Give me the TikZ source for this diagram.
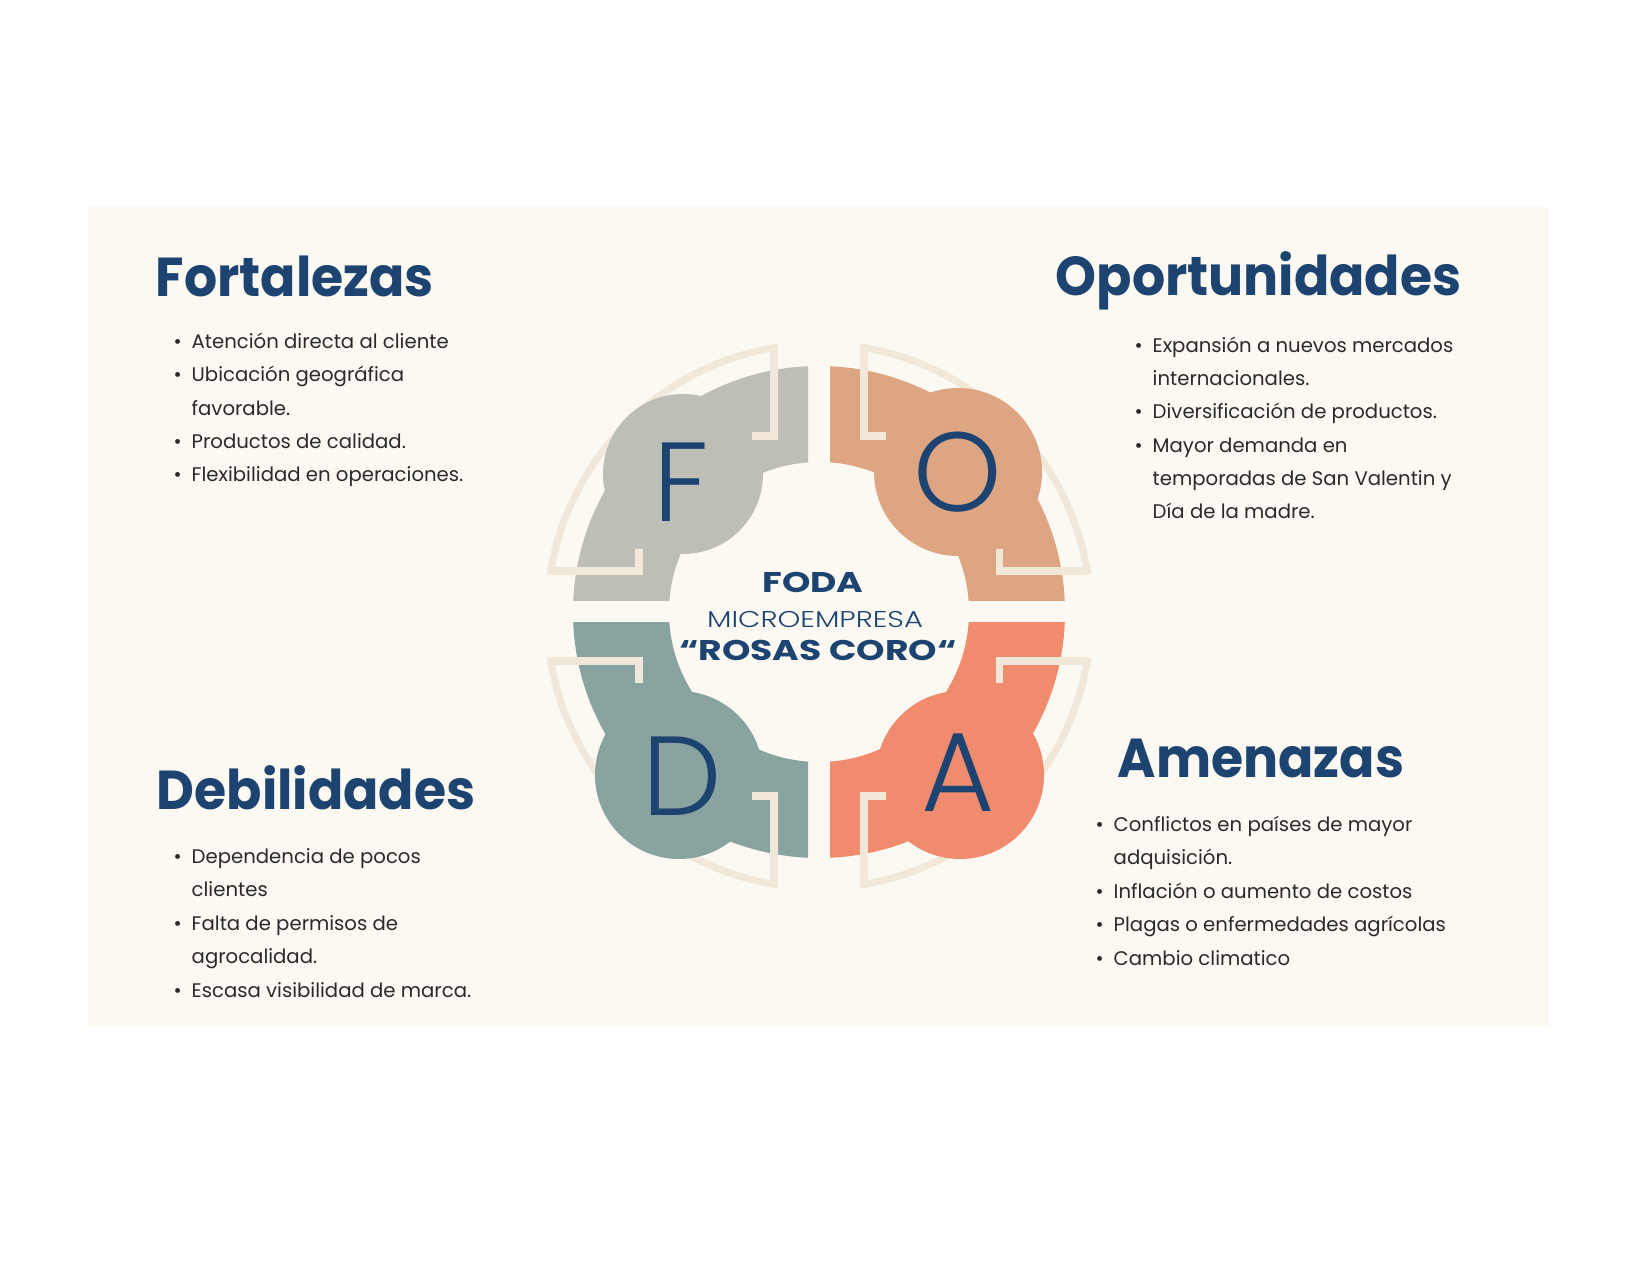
\documentclass[tikz,border=0pt]{standalone}
\usepackage{fontspec}
\setmainfont{Poppins}
\IfFontExistsTF{Poppins Light}{\newfontfamily\thinfont{Poppins Light}%
  \newfontfamily\widethin[FakeStretch=1.27]{Poppins Light}}%
  {\newfontfamily\thinfont{Poppins}\newfontfamily\widethin[FakeStretch=1.27]{Poppins}}
\newfontfamily\widefont[FakeStretch=1.27]{Poppins}
\newfontfamily\headfont[FakeStretch=0.95]{Poppins}
\usetikzlibrary{positioning}
\definecolor{paper}{HTML}{FCF9F2}
\definecolor{navy}{HTML}{1D4470}
\definecolor{ink}{HTML}{2A2A2A}
\definecolor{trimc}{HTML}{F1E8D9}
\definecolor{fgray}{HTML}{BDBEB6}
\definecolor{otan}{HTML}{DEA583}
\definecolor{dteal}{HTML}{88A3A0}
\definecolor{asalmon}{HTML}{F08B6E}
\tikzset{
  heading/.style={font=\headfont\bfseries\fontsize{15.6}{18}\selectfont,text=navy,anchor=base west,inner sep=0pt},
  items/.style={font=\fontsize{5.6}{9.5}\selectfont,text=ink,anchor=base west,align=left,inner sep=0pt},
  bigletter/.style={font=\thinfont\fontsize{32}{36}\selectfont,text=navy,inner sep=0pt},
  blob/.style={circle,minimum size=16.8mm,inner sep=0pt},
  centre/.style={text=navy,anchor=base,inner sep=0pt},
  trimline/.style={draw=trimc,line width=2pt},
}
\newcommand{\bul}{\makebox[1.8mm][l]{\textbullet}}
\newcommand{\ind}{\hspace*{1.8mm}}
% coloured quarter ring: colour, x sign, y sign
\newcommand{\petal}[3]{%
  \begin{scope}[shift={(819,612)},xscale=#2,yscale=#3]
    \clip (-11,-11) rectangle (-260,-260);
    \fill[#1,even odd rule] (0,0) circle[radius=246] (0,0) circle[radius=150];
  \end{scope}}
% cream arc with its two brackets, and the brackets alone
\newcommand{\trimarc}[2]{%
  \draw[trimline,shift={(819,616)},xscale=#1,yscale=#2]
    (-67,-180) -- (-45,-180) -- (-45,-268.25)
    arc[start angle=260.48,end angle=189.52,radius=272]
    -- (-180,-45) -- (-180,-67);}
\newcommand{\trimhooks}[2]{%
  \draw[trimline,shift={(819,616)},xscale=#1,yscale=#2]
    (-67,-180) -- (-45,-180) -- (-45,-268.25)
    (-268.25,-45) -- (-180,-45) -- (-180,-67);}

\begin{document}
\begin{tikzpicture}[x=0.1mm,y=-0.1mm]
  \useasboundingbox (0,0) rectangle (1650,1273);
  \fill[white] (0,0) rectangle (1650,1273);
  \fill[paper] (88,207) rectangle (1549,1026);

  % wheel
  \trimarc{1}{1} \trimarc{-1}{1} \trimarc{1}{-1} \trimarc{-1}{-1}
  \petal{fgray}{1}{1}
  \petal{otan}{-1}{1}
  \petal{dteal}{1}{-1}
  \petal{asalmon}{-1}{-1}
  \node[blob,fill=fgray,minimum size=16mm] (fblob) at (683,474) {};
  \node[blob,fill=otan] (oblob) at (958,472) {};
  \node[blob,fill=dteal] (dblob) at (679,775) {};
  \node[blob,fill=asalmon] (ablob) at (960,775) {};
  \trimhooks{1}{1} \trimhooks{-1}{1} \trimhooks{1}{-1} \trimhooks{-1}{-1}
  \node[bigletter] (F) at (681,482) {F};
  \node[bigletter] (O) at (958,472) {O};
  \node[bigletter] (D) at (682,776) {D};
  \node[bigletter] (A) at (958,773) {A};

  \node[centre,font=\widefont\bfseries\fontsize{8.1}{9}\selectfont] (foda) at (813,593) {FODA};
  \node[centre,font=\widethin\fontsize{6.5}{7}\selectfont] (micro) at (815,628) {MICROEMPRESA};
  \node[centre,font=\widefont\bfseries\fontsize{8.1}{9}\selectfont] (rosas) at (818,661) {“ROSAS CORO“};

  % four quadrants of text (lists sit on their last line)
  \node[heading] (fort) at (155,297) {Fortalezas};
  \node[items] (fortlist) at (173,482) {\bul Atención directa al cliente\\
    \bul Ubicación geográfica\\ \ind favorable.\\
    \bul Productos de calidad.\\
    \bul Flexibilidad en operaciones.};

  \node[heading] (opor) at (1055,296) {Oportunidades};
  \node[items] (oporlist) at (1134,519) {\bul Expansión a nuevos mercados\\
    \ind internacionales.\\
    \bul Diversificación de productos.\\
    \bul Mayor demanda en\\ \ind temporadas de San Valentin y\\ \ind Día de la madre.};

  \node[heading] (debi) at (156,810) {Debilidades};
  \node[items] (debilist) at (173,997) {\bul Dependencia de pocos\\ \ind clientes\\
    \bul Falta de permisos de\\ \ind agrocalidad.\\
    \bul Escasa visibilidad de marca.};

  \node[heading] (amen) at (1117,778) {Amenazas};
  \node[items] (amenlist) at (1095,965) {\bul Conflictos en países de mayor\\ \ind adquisición.\\
    \bul Inflación o aumento de costos\\
    \bul Plagas o enfermedades agrícolas\\
    \bul Cambio climatico};
\end{tikzpicture}
\end{document}
